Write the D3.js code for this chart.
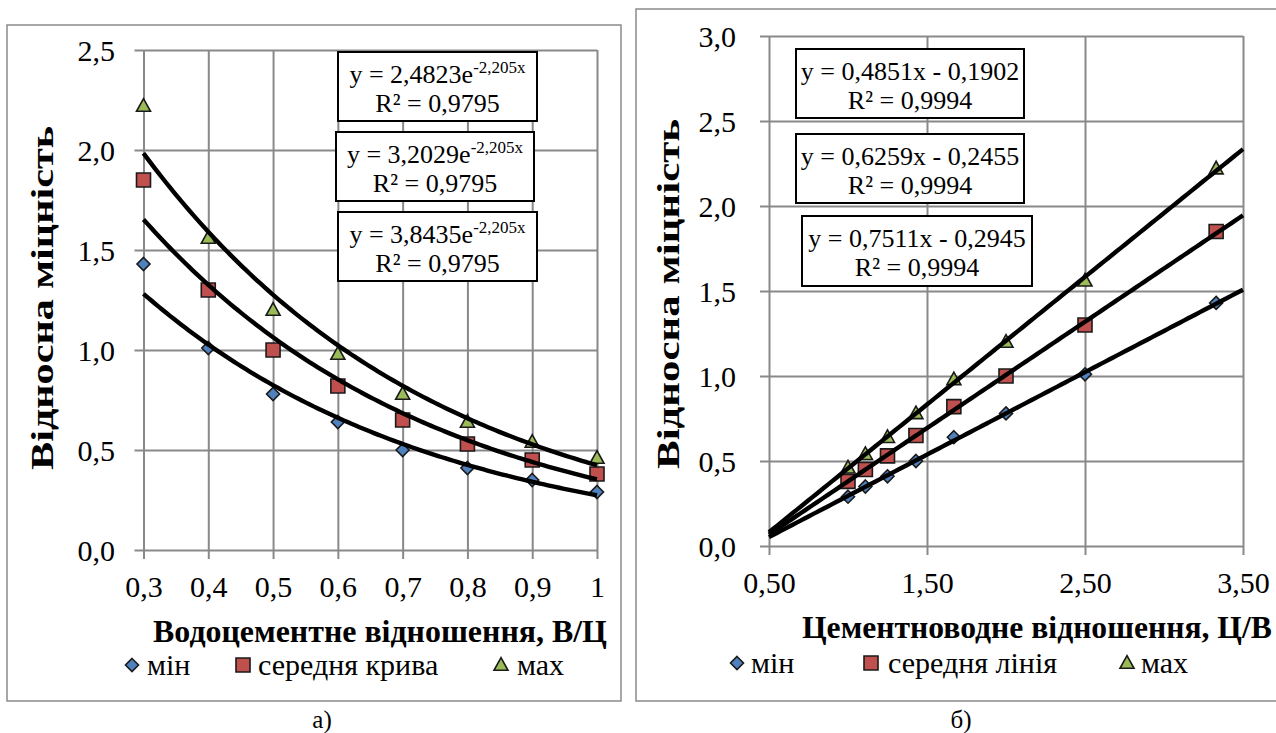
<!DOCTYPE html>
<html><head><meta charset="utf-8">
<script src="https://cdn.jsdelivr.net/npm/d3@7"></script>
<style>
html,body{margin:0;padding:0;background:#fff;}
svg{display:block;}
</style></head>
<body>
<svg id="chart" width="1276" height="733"></svg>
<script>
// ---------- data ----------
const wcRatio = [0.3, 0.4, 0.5, 0.6, 0.7, 0.8, 0.9, 1.0];
const cwRatio = [3.33, 2.50, 2.00, 1.67, 1.43, 1.25, 1.11, 1.00];
const minStrength = [1.43, 1.01, 0.78, 0.64, 0.50, 0.41, 0.35, 0.29];
const midStrength = [1.85, 1.30, 1.00, 0.82, 0.65, 0.53, 0.45, 0.38];
const maxStrength = [2.22, 1.56, 1.20, 0.98, 0.78, 0.64, 0.54, 0.46];
const seriesNamesA = ["мін", "середня крива", "мах"];
const seriesNamesB = ["мін", "середня лінія", "мах"];
const expCoef = [2.4823, 3.2029, 3.8435];
const expRate = -2.205;
const linSlope = [0.4851, 0.6259, 0.7511];
const linIntercept = [-0.1902, -0.2455, -0.2945];
const eqMainA = ["y = 2,4823e", "y = 3,2029e", "y = 3,8435e"];
const eqSupA = "-2,205x";
const r2A = "R² = 0,9795";
const eqMainB = ["y = 0,4851x - 0,1902", "y = 0,6259x - 0,2455", "y = 0,7511x - 0,2945"];
const r2B = "R² = 0,9994";
const xTicksA = [0.3, 0.4, 0.5, 0.6, 0.7, 0.8, 0.9, 1.0];
const xTickLabelsA = ["0,3", "0,4", "0,5", "0,6", "0,7", "0,8", "0,9", "1"];
const yTicksA = [0, 0.5, 1.0, 1.5, 2.0, 2.5];
const yTickLabelsA = ["0,0", "0,5", "1,0", "1,5", "2,0", "2,5"];
const xTicksB = [0.5, 1.5, 2.5, 3.5];
const xTickLabelsB = ["0,50", "1,50", "2,50", "3,50"];
const yTicksB = [0, 0.5, 1.0, 1.5, 2.0, 2.5, 3.0];
const yTickLabelsB = ["0,0", "0,5", "1,0", "1,5", "2,0", "2,5", "3,0"];
const yTitle = "Відносна міцність";
const xTitleA = "Водоцементне відношення, В/Ц";
const xTitleB = "Цементноводне відношення, Ц/В";
const captions = ["а)", "б)"];

// ---------- style ----------
const FONT = "\"Liberation Serif\"";
const GRID = "#898989";
const colors = ["#4F81BD", "#C0504D", "#9BBB59"];
const shapes = ["diamond", "square", "triangle"];
const svg = d3.select("#chart");

function markerPath(shape, s) {
  const h = s / 2;
  if (shape === "diamond") return `M0,${-h}L${h},0L0,${h}L${-h},0Z`;
  if (shape === "square") return `M${-h},${-h}H${h}V${h}H${-h}Z`;
  return `M0,${-h * 1.05}L${h},${h * 0.75}L${-h},${h * 0.75}Z`;
}
function setFont(sel) { return sel.attr("font-family", "Liberation Serif").style("font-family", FONT).attr("fill", "#000"); }
function txt(sel) { return setFont(sel.append("text")); }
function fitWidth(t, w) {
  const cur = t.node().getComputedTextLength();
  const fs = parseFloat(t.attr("font-size"));
  if (cur > 0) t.attr("font-size", (fs * w / cur).toFixed(2));
}

function panel(cfg) {
  const g = svg.append("g");
  g.append("rect").attr("x", cfg.box[0]).attr("y", cfg.box[1]).attr("width", cfg.box[2]).attr("height", cfg.box[3])
    .attr("fill", "#fff").attr("stroke", "#8a8a8a").attr("stroke-width", 1.5);
  const x = d3.scaleLinear().domain(cfg.xDomain).range(cfg.xRange);
  const y = d3.scaleLinear().domain(cfg.yDomain).range(cfg.yRange);
  const plotW = cfg.xRange[1] - cfg.xRange[0];
  const plotH = cfg.yRange[0] - cfg.yRange[1];
  const ya = g.append("g").attr("transform", `translate(${cfg.xRange[0]},0)`)
    .call(d3.axisLeft(y).tickValues(cfg.yTicks).tickFormat((d, i) => cfg.yLabels[i])
      .tickSizeInner(-plotW).tickSizeOuter(0).tickPadding(cfg.xRange[0] - cfg.yLabelX));
  ya.attr("font-family", "Liberation Serif");
  ya.select(".domain").remove();
  ya.selectAll(".tick line").attr("x1", -9).attr("stroke", GRID).attr("stroke-width", 2);
  setFont(ya.selectAll(".tick text")).attr("font-size", 30).attr("dy", "0.34em");
  const xa = g.append("g").attr("transform", `translate(0,${cfg.yRange[0]})`)
    .call(d3.axisBottom(x).tickValues(cfg.xTicks).tickFormat((d, i) => cfg.xLabels[i])
      .tickSizeInner(-plotH).tickSizeOuter(0).tickPadding(0));
  xa.attr("font-family", "Liberation Serif");
  xa.select(".domain").remove();
  xa.selectAll(".tick line").attr("y1", 9).attr("stroke", GRID).attr("stroke-width", 2);
  setFont(xa.selectAll(".tick text")).attr("font-size", 30)
    .attr("y", cfg.xLabelBase - cfg.yRange[0]).attr("dy", 0);
  const series = [minStrength, midStrength, maxStrength];
  series.forEach((vals, si) => {
    g.append("g").selectAll("path").data(vals).join("path")
      .attr("d", markerPath(shapes[si], si === 0 ? 13 : 14))
      .attr("transform", (d, i) => `translate(${x(cfg.xData[i])},${y(d)})`)
      .attr("fill", colors[si]).attr("stroke", "#1a1a1a").attr("stroke-width", 1.6);
  });
  cfg.trends.forEach(fn => {
    const xs = d3.range(0, 121).map(k => cfg.xTrend[0] + (cfg.xTrend[1] - cfg.xTrend[0]) * k / 120);
    g.append("path").datum(xs)
      .attr("d", d3.line().x(v => x(v)).y(v => y(fn(v))))
      .attr("fill", "none").attr("stroke", "#000").attr("stroke-width", 4.4);
  });
  cfg.eqBoxes.forEach((b, i) => {
    g.append("rect").attr("x", b[0]).attr("y", b[1]).attr("width", b[2] - b[0]).attr("height", b[3] - b[1])
      .attr("fill", "#fff").attr("stroke", "#000").attr("stroke-width", 2);
    const cx = (b[0] + b[2]) / 2;
    const t = txt(g).attr("x", cx).attr("y", b[1] + 31).attr("text-anchor", "middle").attr("font-size", 26);
    t.append("tspan").text(cfg.eqMain[i]);
    if (cfg.eqSup) t.append("tspan").attr("font-size", 17).attr("dy", -10).text(cfg.eqSup);
    txt(g).attr("x", cx).attr("y", b[1] + 60).attr("text-anchor", "middle").attr("font-size", 26).text(cfg.r2);
  });
  txt(g).attr("transform", `translate(${cfg.yTitlePos[0]},${cfg.yTitlePos[1]}) rotate(-90)`)
    .attr("text-anchor", "middle").attr("dy", "0.35em").attr("font-weight", "bold").attr("font-size", 32)
    .attr("textLength", cfg.yTitleLen).attr("lengthAdjust", "spacingAndGlyphs")
    .text(yTitle);
  const xt = txt(g).attr("x", cfg.xTitlePos[0]).attr("y", cfg.xTitlePos[1]).attr("text-anchor", cfg.xTitleAnchor)
    .attr("font-weight", "bold").attr("font-size", 29).text(cfg.xTitle);
  fitWidth(xt, cfg.xTitleLen);
  cfg.legend.forEach((L, i) => {
    g.append("path").attr("d", markerPath(shapes[i], i === 0 ? 13 : 14))
      .attr("transform", `translate(${L[0]},${cfg.legendY - 10})`)
      .attr("fill", colors[i]).attr("stroke", "#1a1a1a").attr("stroke-width", 1.6);
    txt(g).attr("x", L[1]).attr("y", cfg.legendY).attr("font-size", 30).text(cfg.names[i]);
  });
  txt(g).attr("x", cfg.caption[0]).attr("y", cfg.caption[1]).attr("text-anchor", "middle")
    .attr("font-size", 25).text(cfg.captionText);
}

panel({
  box: [7, 25, 614, 676],
  xDomain: [0.3, 1.0], xRange: [143.5, 597],
  yDomain: [0, 2.5], yRange: [550, 50],
  xTicks: xTicksA, xLabels: xTickLabelsA, yTicks: yTicksA, yLabels: yTickLabelsA,
  yLabelX: 115, xLabelBase: 597,
  xData: wcRatio,
  xTrend: [0.3, 1.0],
  trends: expCoef.map(a => (v => a * Math.exp(expRate * v))),
  eqBoxes: [[338, 52, 537, 121], [336, 132, 534, 201], [338, 212, 537, 281]],
  eqMain: eqMainA, eqSup: eqSupA, r2: r2A,
  yTitlePos: [42, 298], yTitleLen: 344, xTitlePos: [380, 642], xTitleLen: 454, xTitleAnchor: "middle", xTitle: xTitleA,
  legend: [[132, 147], [243, 258], [501, 517]], legendY: 675, names: seriesNamesA,
  caption: [322, 728], captionText: captions[0]
});

panel({
  box: [636, 9, 700, 692],
  xDomain: [0.5, 3.5], xRange: [769, 1243],
  yDomain: [0, 3.0], yRange: [546, 36],
  xTicks: xTicksB, xLabels: xTickLabelsB, yTicks: yTicksB, yLabels: yTickLabelsB,
  yLabelX: 736, xLabelBase: 593,
  xData: cwRatio,
  xTrend: [0.5, 3.5],
  trends: linSlope.map((s, i) => (v => s * v + linIntercept[i])),
  eqBoxes: [[796, 49, 1024, 118], [796, 134, 1024, 203], [802, 216, 1032, 286]],
  eqMain: eqMainB, eqSup: null, r2: r2B,
  yTitlePos: [668, 294], yTitleLen: 350, xTitlePos: [802, 638], xTitleLen: 470, xTitleAnchor: "start", xTitle: xTitleB,
  legend: [[737, 751], [871, 888], [1127, 1141]], legendY: 673, names: seriesNamesB,
  caption: [961, 728], captionText: captions[1]
});
</script>
</body></html>
